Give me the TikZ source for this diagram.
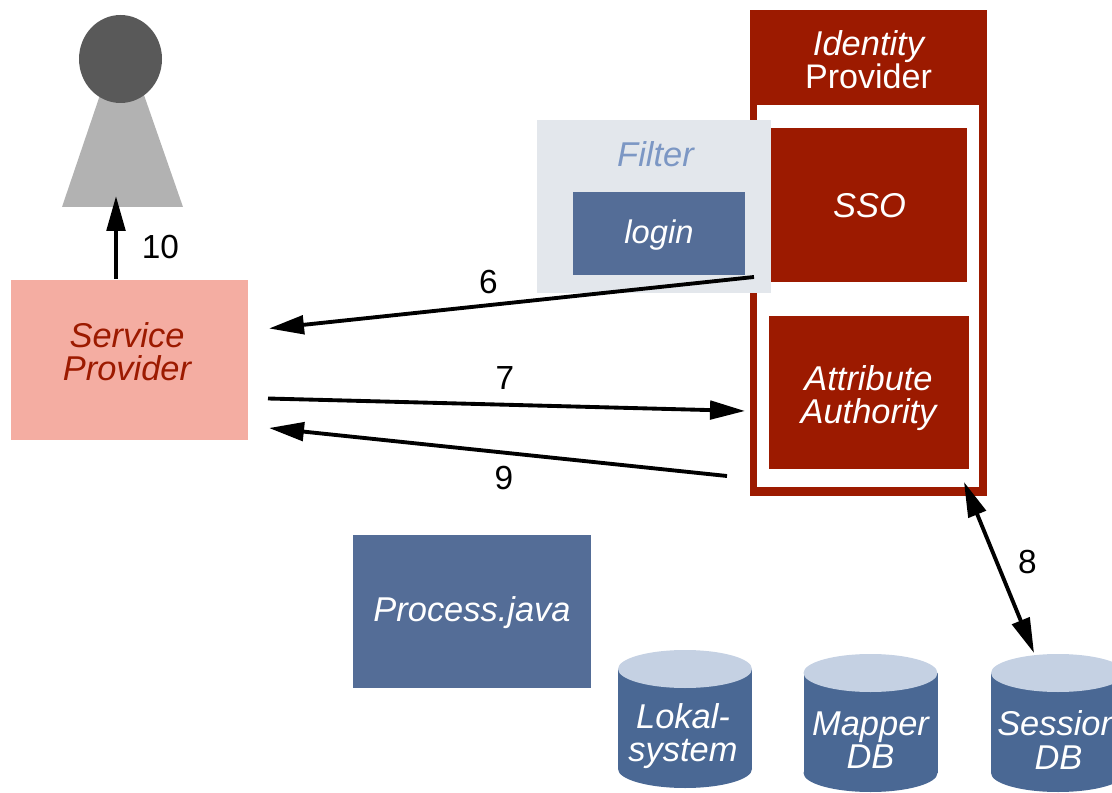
\documentclass[tikz,border=0pt]{standalone}
\usepackage{fontspec}
\setmainfont{Liberation Sans}
\usetikzlibrary{arrows.meta}
\definecolor{idpred}{HTML}{9C1A00}
\definecolor{sppink}{HTML}{F4ADA2}
\definecolor{procblue}{HTML}{546D97}
\definecolor{drumblue}{HTML}{4A6894}
\definecolor{drumtop}{HTML}{C5D1E3}
\definecolor{filterbg}{HTML}{E3E7EC}
\definecolor{filtertext}{HTML}{7C97C4}
\tikzset{
    box/.style 2 args={inner sep=0pt,minimum width=#1*0.02cm,minimum height=#2*0.02cm,align=center},
    lbl/.style={font=\fontsize{19.6}{19}\selectfont\itshape,align=center,inner sep=0pt},
    num/.style={font=\fontsize{19}{19}\selectfont,inner sep=0pt},
    flow/.style={line width=2.2pt,-{Triangle[length=0.7cm,width=0.37cm]}},
}
% name, centre x, top y, text x, text y, text
\newcommand{\dbdrum}[6]{
    \fill[drumblue] (#2,#3+119) ellipse [x radius=67,y radius=19];
    \fill[drumblue] (#2-67,#3+19) rectangle (#2+67,#3+119);
    \fill[drumtop] (#2,#3+19) ellipse [x radius=67,y radius=19];
    \node[lbl,text=white] (#1) at (#4,#5) {#6};
}
\begin{document}
\begin{tikzpicture}[x=0.02cm,y=-0.02cm]
    \clip (0,0) rectangle (1112,793);

    % user
    \fill[black!30] (100,95) -- (144,95) -- (183,207) -- (62,207) -- cycle;
    \fill[black!65] (120.5,59) ellipse [x radius=41.5,y radius=44];

    % identity provider
    \node[box={237}{486},fill=idpred] (idp) at (868.5,253) {};
    \node[box={222}{382},fill=white] (idpinner) at (868,296) {};
    \node[lbl,text=white] (idplabel) at (868.5,60) {Identity\\\textup{\fontsize{19.4}{19}\selectfont Provider}};
    \node[box={197}{154},fill=idpred] (sso) at (868.5,205) {};
    \node[lbl,text=white] (ssolabel) at (869.5,206) {SSO};
    \node[box={200}{153},fill=idpred] (attrauth) at (869,392.5) {};
    \node[lbl,text=white] (aalabel) at (868.5,398) {Attribute\\Authority};

    % filter
    \node[box={234}{173},fill=filterbg] (filter) at (654,206.5) {};
    \node[lbl,text=filtertext] (filterlabel) at (655.5,154) {Filter};
    \node[box={172}{83},fill=procblue] (login) at (659,233.5) {};
    \node[lbl,text=white,font=\fontsize{18.6}{19}\selectfont\itshape] (loginlabel) at (659,235) {login};

    % service provider and process
    \node[box={237}{160},fill=sppink] (sp) at (129.5,360) {};
    \node[lbl,text=idpred] (splabel) at (127,352) {Service\\Provider};
    \node[box={238}{153},fill=procblue] (process) at (472,611.5) {};
    \node[lbl,text=white] (processlabel) at (472,613) {Process.java};

    % stores
    \dbdrum{lokal}{685}{650}{683}{736}{Lokal-\\system}
    \dbdrum{mapper}{870.5}{654}{870.5}{740}{Mapper\\DB}
    \dbdrum{session}{1058}{654}{1058.5}{740}{Session\\DB}

    % connector ends
    \coordinate (userin) at (116,196);
    \coordinate (spup) at (116,279);
    \coordinate (ssoout) at (754,277);
    \coordinate (spin6) at (269,328.5);
    \coordinate (spout7) at (268,398.5);
    \coordinate (aain) at (745,411);
    \coordinate (aaout) at (727,476);
    \coordinate (spin9) at (269,428);
    \coordinate (idpdown) at (964,482);
    \coordinate (sessiontop) at (1034,653);

    \draw[flow] (spup) -- (userin);
    \draw[flow] (ssoout) -- (spin6);
    \draw[flow] (spout7) -- (aain);
    \draw[flow] (aaout) -- (spin9);
    \draw[flow,{Triangle[length=0.7cm,width=0.37cm]}-{Triangle[length=0.7cm,width=0.37cm]}] (idpdown) -- (sessiontop);

    \node[num] (n10) at (160.5,247) {10};
    \node[num] (n6) at (488.5,282) {6};
    \node[num] (n7) at (505,378) {7};
    \node[num] (n9) at (504,478) {9};
    \node[num] (n8) at (1027.5,562) {8};
\end{tikzpicture}
\end{document}
